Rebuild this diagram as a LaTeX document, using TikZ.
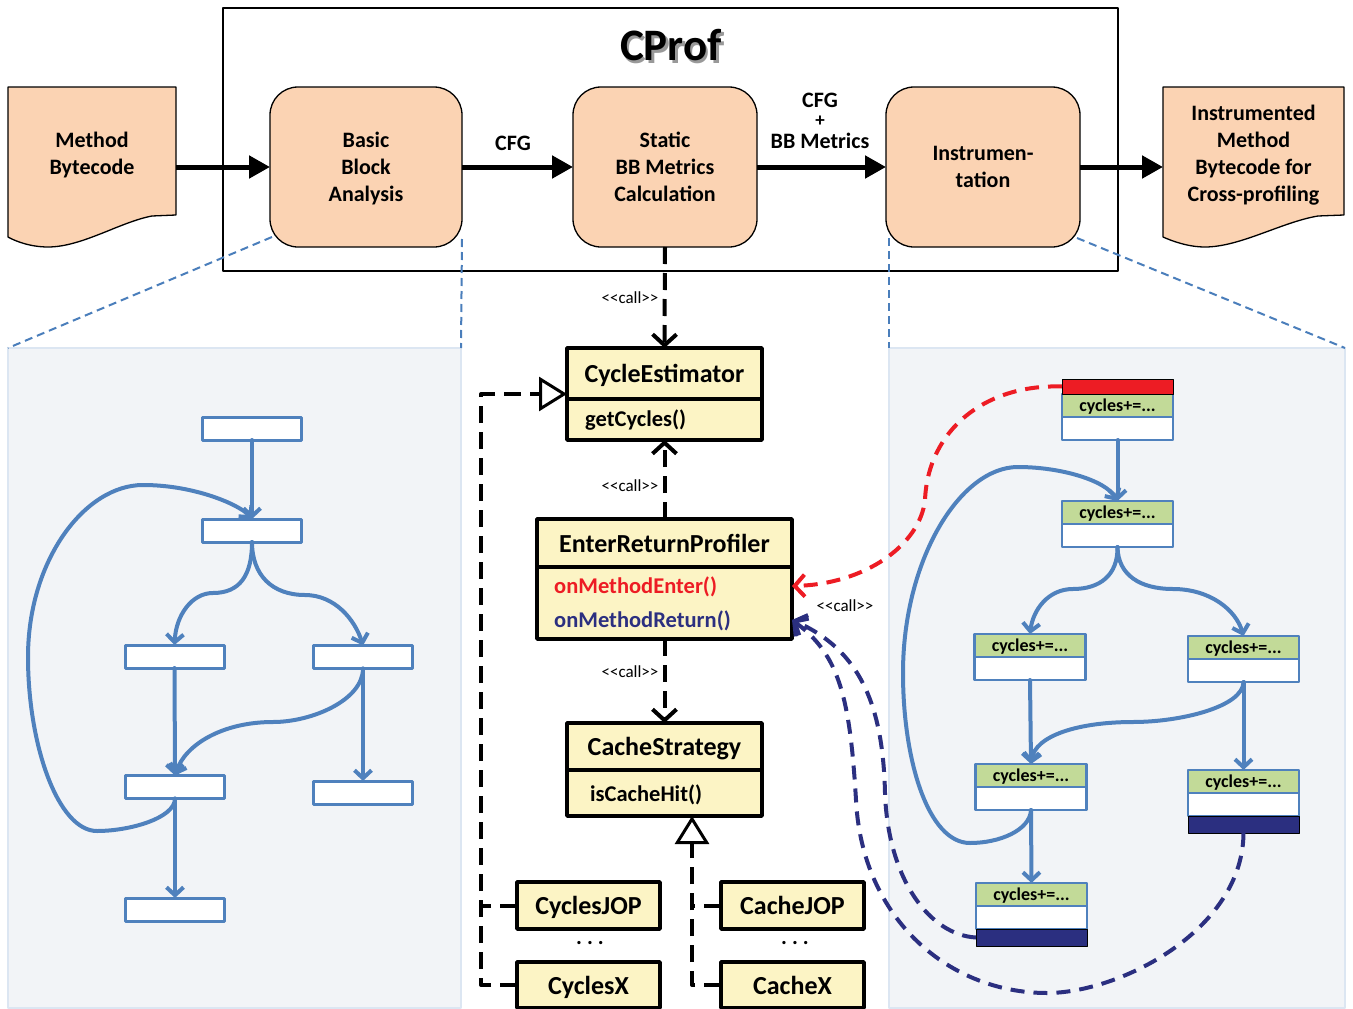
\documentclass[tikz,border=0pt]{standalone}
\usepackage{fontspec}
\setmainfont{Carlito}
\usetikzlibrary{arrows.meta}
\definecolor{corange}{HTML}{FBD3B3}
\definecolor{cyellow}{HTML}{FCF4C5}
\definecolor{cgreen}{HTML}{C2DA98}
\definecolor{cblue}{HTML}{4F81BD}
\definecolor{cdash}{HTML}{4A7EBB}
\definecolor{cpanel}{HTML}{F2F4F7}
\definecolor{cpanelb}{HTML}{DCE6F2}
\definecolor{cnavy}{HTML}{2B2F80}
\definecolor{cred}{HTML}{ED1C24}
\newcommand\topfont{\fontsize{22}{27}\selectfont\bfseries}
\newcommand\plusfont{\fontsize{19}{22}\selectfont\bfseries}
\newcommand\clsfont{\fontsize{26}{30}\selectfont\bfseries}
\newcommand\methfont{\fontsize{22.5}{27}\selectfont\bfseries}
\newcommand\cycfont{\fontsize{18}{20}\selectfont\bfseries}
\newcommand\callfont{\fontsize{17}{19}\selectfont}
\newcommand\calltext{<\kern0pt<call>\kern0pt>}
\newcommand\cycbox[3]{%
  \node[gbox, anchor=north] (#1g) at (#2,#3) {cycles+=...};
  \node[wbox, anchor=north] (#1w) at (#1g.south) {};}
\begin{document}
\begin{tikzpicture}[x=1pt,y=-1pt,
  proc/.style={draw=black, line width=1.3pt, fill=corange, rounded corners=28pt, inner sep=0pt, outer sep=0pt, align=center, font=\topfont},
  doc/.style={draw=black, line width=1.3pt, fill=corange},
  doctext/.style={inner sep=0pt, outer sep=0pt, align=center, font=\topfont},
  lbl/.style={inner sep=0pt, outer sep=0pt, font=\topfont},
  panel/.style={draw=cpanelb, line width=1.5pt, fill=cpanel, inner sep=0pt, outer sep=0pt},
  zoomline/.style={draw=cdash, line width=2pt, dash pattern=on 8pt off 5pt},
  bigarrow/.style={line width=5pt, -{Triangle[length=21pt,width=22pt]}},
  cfgbox/.style={draw=cblue, line width=3pt, fill=white, minimum width=99pt, minimum height=23pt, inner sep=0pt, outer sep=0pt},
  gbox/.style={draw=cblue, line width=2.5pt, fill=cgreen, minimum width=111pt, minimum height=23pt, inner sep=0pt, outer sep=0pt, font=\cycfont, text depth=0pt},
  wbox/.style={draw=cblue, line width=2.5pt, fill=white, minimum width=111pt, minimum height=23pt, inner sep=0pt, outer sep=0pt},
  cfgedge/.style={draw=cblue, line width=4pt, line cap=round, -{Straight Barb[length=8pt,width=17pt]}},
  clstitle/.style={draw=black, line width=3.5pt, fill=cyellow, inner sep=0pt, outer sep=0pt, font=\clsfont, text depth=0pt},
  clsbody/.style={draw=black, line width=3.5pt, fill=cyellow, inner sep=0pt, outer sep=0pt},
  smallcls/.style={draw=black, line width=3.5pt, fill=cyellow, inner sep=0pt, outer sep=0pt, font=\clsfont, minimum width=143pt, text depth=0pt},
  callarrow/.style={line width=4pt, dash pattern=on 17pt off 9pt, -{Straight Barb[length=11pt,width=24pt]}},
  realize/.style={line width=4pt, dash pattern=on 17pt off 9pt},
  realizetip/.style={realize, -{Triangle[length=28pt,width=34pt,fill=white,line width=3pt]}},
  calllabel/.style={font=\callfont, inner sep=0pt},
  reddash/.style={draw=cred, line width=4pt, dash pattern=on 14pt off 9pt, -{Straight Barb[length=10pt,width=22pt]}},
  navydash/.style={draw=cnavy, line width=4pt, dash pattern=on 14pt off 9pt, -{Straight Barb[length=10pt,width=22pt]}},
  line join=round]
\useasboundingbox (0,0) rectangle (1353,1009);

% panels
\node[panel, minimum width=453pt, minimum height=660pt] (lp) at (234.5,678) {};
\node[panel, minimum width=456pt, minimum height=660pt] (rp) at (1117,678) {};

% CProf frame and title
\node[draw=black, line width=2pt, inner sep=0pt, outer sep=0pt, minimum width=895pt, minimum height=263pt] (frame) at (670.5,139.5) {};
\node[font=\fontsize{45}{50}\selectfont\bfseries, text=black!40] (titleshadow) at (673.5,48) {CProf};
\node[font=\fontsize{45}{50}\selectfont\bfseries] (title) at (671,45.5) {CProf};

% document shapes
\draw[doc] (8,87) -- (176,87) -- (176,215) -- (152,216) .. controls (120,222) and (82,247) .. (48,247) .. controls (30,247) and (15,241) .. (8,237) -- cycle;
\node[doctext, minimum width=168pt] (mb) at (92,155) {Method\\Bytecode};
\draw[doc] (1163,87) -- (1344,87) -- (1344,215) -- (1318,216) .. controls (1282,222) and (1240,247) .. (1205,247) .. controls (1188,247) and (1172,241) .. (1163,237) -- cycle;
\node[doctext, minimum width=181pt] (imb) at (1253.5,155) {Instrumented\\Method\\Bytecode for\\Cross-profiling};

% process boxes
\node[proc, minimum width=192pt, minimum height=160pt, text depth=0pt] (bba) at (366,167) {Basic\\Block\\Analysis};
\node[proc, minimum width=184pt, minimum height=160pt] (sbb) at (665,167) {Static\\BB Metrics\\Calculation};
\node[proc, minimum width=194pt, minimum height=160pt] (ins) at (983,167) {Instrumen-\\tation};

% zoom lines
\draw[zoomline] ([shift={(2pt,10pt)}]bba.south west) -- (lp.north west);
\draw[zoomline] ([shift={(0pt,8pt)}]bba.south east) -- (lp.north east);
\draw[zoomline] ([shift={(3pt,9pt)}]ins.south west) -- (rp.north west);
\draw[zoomline] ([shift={(-3pt,9pt)}]ins.south east) -- (rp.north east);

% main arrows
\draw[bigarrow] (mb.east |- bba.west) -- (bba.west);
\draw[bigarrow] (bba.east) -- (sbb.west);
\draw[bigarrow] (sbb.east) -- (ins.west);
\draw[bigarrow] (ins.east) -- (imb.west |- ins.east);
\node[lbl] (cfg1) at (513,143) {CFG};
\node[lbl] (cfg2a) at (820,100) {CFG};
\node[inner sep=0pt, outer sep=0pt, font=\plusfont] (cfg2b) at (820,121.5) {+};
\node[lbl] (cfg2c) at (820,141) {BB Metrics};

% left CFG
\node[cfgbox] (b1) at (252,428.5) {};
\node[cfgbox] (b2) at (252,530.5) {};
\node[cfgbox] (b3) at (174.5,656.5) {};
\node[cfgbox] (b4) at (363,657) {};
\node[cfgbox] (b5) at (175,787) {};
\node[cfgbox] (b6) at (363,792.5) {};
\node[cfgbox] (b7) at (175,909.5) {};
\draw[cfgedge] (b1.south) -- (b2.north);
\draw[cfgedge] (b2.south) .. controls (252,575) and (240,593) .. (213,593) .. controls (192,593) and (176,615) .. (b3.north);
\draw[cfgedge] (b2.south) .. controls (252,575) and (272,595) .. (305,595) .. controls (335,595) and (355,620) .. (b4.north);
\draw[cfgedge] (b3.south) -- (b5.north);
\draw[cfgedge] (b4.south) .. controls (363,700) and (312,722) .. (273,722) .. controls (222,722) and (185,745) .. (b5.north);
\draw[cfgedge] (b4.south) -- (b6.north);
\draw[cfgedge] (b5.south) -- (b7.north);
\draw[cfgedge] (b5.south) .. controls (175,818) and (130,831) .. (97,831) .. controls (58,831) and (28,745) .. (28,657) .. controls (28,560) and (85,485) .. (143,485) .. controls (195,485) and (240,505) .. (b2.north);

% right instrumented CFG
\cycbox{A}{1117.5}{394}
\cycbox{B}{1117.5}{501}
\cycbox{C}{1030}{634}
\cycbox{D}{1243.5}{636}
\cycbox{E}{1031}{764}
\cycbox{F}{1243.5}{770}
\cycbox{G}{1031.5}{883}
\node[draw=black, line width=1pt, fill=cred, minimum width=111pt, minimum height=15pt, inner sep=0pt, outer sep=0pt, anchor=south] (Ar) at (Ag.north) {};
\node[draw=black, line width=1pt, fill=cnavy, minimum width=111pt, minimum height=17pt, inner sep=0pt, outer sep=0pt, anchor=north] (Fn) at (Fw.south) {};
\node[draw=black, line width=1pt, fill=cnavy, minimum width=111pt, minimum height=17pt, inner sep=0pt, outer sep=0pt, anchor=north] (Gn) at (Gw.south) {};
\draw[cfgedge] (Aw.south) -- (Bg.north);
\draw[cfgedge] (Bw.south) .. controls (1118,575) and (1100,589) .. (1073,589) .. controls (1048,589) and (1033,610) .. (Cg.north);
\draw[cfgedge] (Bw.south) .. controls (1118,575) and (1140,589) .. (1173,589) .. controls (1210,589) and (1236,610) .. (Dg.north);
\draw[cfgedge] (Cw.south) -- (Eg.north);
\draw[cfgedge] (Dw.south) .. controls (1243,707) and (1180,722) .. (1133,722) .. controls (1080,722) and (1035,735) .. (Eg.north);
\draw[cfgedge] (Dw.south) -- (Fg.north);
\draw[cfgedge] (Ew.south) -- (Gg.north);
\draw[cfgedge] (Ew.south) .. controls (1030,830) and (1000,843) .. (970,843) .. controls (928,843) and (903,760) .. (903,673) .. controls (903,560) and (960,467) .. (1018,467) .. controls (1060,467) and (1105,480) .. (Bg.north);

% UML classes
\node[clstitle, minimum width=195pt, minimum height=51pt, anchor=north west] (cet) at (567,348) {CycleEstimator};
\node[clsbody, minimum width=195pt, minimum height=41pt, anchor=north west] (ceb) at (567,399) {};
\node[anchor=west, inner sep=0pt, font=\methfont] (cem) at (585,420) {getCycles()};
\node[clstitle, minimum width=255pt, minimum height=48pt, anchor=north west] (ert) at (537,519) {EnterReturnProfiler};
\node[clsbody, minimum width=255pt, minimum height=72pt, anchor=north west] (erb) at (537,567) {};
\node[anchor=west, inner sep=0pt, font=\methfont, text=cred] (erm1) at (554,587) {onMethodEnter()};
\node[anchor=west, inner sep=0pt, font=\methfont, text=cnavy] (erm2) at (554,621) {onMethodReturn()};
\node[clstitle, minimum width=195pt, minimum height=47pt, anchor=north west] (cst) at (567,723) {CacheStrategy};
\node[clsbody, minimum width=195pt, minimum height=46pt, anchor=north west] (csb) at (567,770) {};
\node[anchor=west, inner sep=0pt, font=\methfont] (csm) at (590,795) {isCacheHit()};
\node[smallcls, minimum height=47pt] (cjop) at (588.5,905.5) {CyclesJOP};
\node[smallcls, minimum height=46pt] (cx) at (588.5,985) {CyclesX};
\node[smallcls, minimum height=47pt] (chjop) at (792.5,905.5) {CacheJOP};
\node[smallcls, minimum height=46pt] (chx) at (792.5,985) {CacheX};
\node[font=\topfont, inner sep=0pt] (dots1) at (590,943) {.\ .\ .};
\node[font=\topfont, inner sep=0pt] (dots2) at (795,943) {.\ .\ .};

% call arrows
\draw[callarrow] (sbb.south) -- (cet.north);
\draw[callarrow] (ert.north) -- (ceb.south);
\draw[callarrow] (erb.south) -- (cst.north);
\node[calllabel] (c1) at (630,298) {\calltext};
\node[calllabel] (c2) at (630,486) {\calltext};
\node[calllabel] (c3) at (630,672) {\calltext};
\node[calllabel] (c4) at (845,606) {\calltext};

% realization
\coordinate (vl) at (481,0);
\coordinate (tipce) at ([yshift=5pt]ceb.north west);
\draw[realizetip] (cx.west) -| (vl |- tipce) -- (tipce);
\draw[realize] (cjop.west) -- (cjop.west -| vl);
\coordinate (vc) at (692,0);
\draw[realizetip] (chx.west) -| (vc |- csb.south);
\draw[realize] (chjop.west) -- (chjop.west -| vc);

% profiler callbacks
\coordinate (enterpt) at ([yshift=17pt]erb.east);
\coordinate (returnpt) at ([yshift=-17pt]erb.east);
\draw[reddash] (Ar.west) .. controls (985,384) and (928,430) .. (925,500) .. controls (920,545) and (865,584) .. (enterpt);
\draw[navydash] (Gn.west) .. controls (930,935) and (888,880) .. (885,793) .. controls (883,705) and (860,650) .. (returnpt);
\draw[navydash] (Fn.south) .. controls (1243,930) and (1120,993) .. (1047,993) .. controls (950,993) and (862,920) .. (856,800) .. controls (850,700) and (840,655) .. (returnpt);
\end{tikzpicture}
\end{document}
